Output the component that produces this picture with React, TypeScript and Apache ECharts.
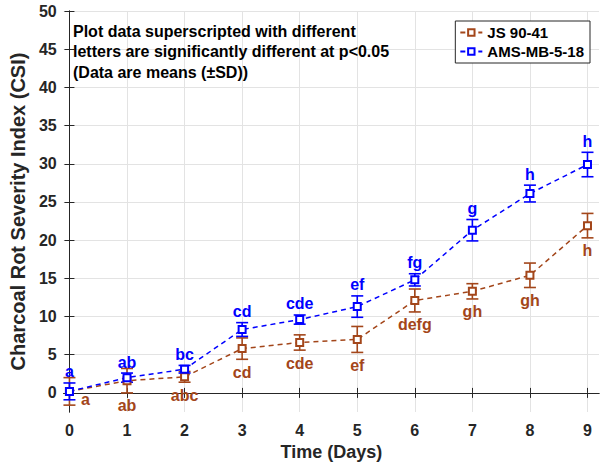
import React, { useEffect, useRef } from 'react';
import * as echarts from 'echarts';

const days = [0, 1, 2, 3, 4, 5, 6, 7, 8, 9];
const yTicks = [0, 5, 10, 15, 20, 25, 30, 35, 40, 45, 50];
const jsName = 'JS 90-41';
const amsName = 'AMS-MB-5-18';
const jsMean = [0.2, 1.6, 2.1, 5.8, 6.6, 7.0, 12.1, 13.3, 15.4, 21.9];
const jsSD = [1.8, 1.6, 0.7, 1.4, 1.0, 1.7, 1.5, 1.0, 1.6, 1.6];
const jsLetters = ['a', 'ab', 'abc', 'cd', 'cde', 'ef', 'defg', 'gh', 'gh', 'h'];
const amsMean = [0.2, 2.0, 3.1, 8.3, 9.6, 11.3, 14.8, 21.3, 26.1, 29.9];
const amsSD = [1.1, 0.6, 0.5, 0.9, 0.6, 1.4, 0.8, 1.4, 1.1, 1.6];
const amsLetters = ['a', 'ab', 'bc', 'cd', 'cde', 'ef', 'fg', 'g', 'h', 'h'];
const note = [
  'Plot data superscripted with different',
  'letters are significantly different at p<0.05',
  '(Data are means (\u00b1SD))',
];

const FONT = 'Liberation Sans, Arial, Helvetica, sans-serif';
const BROWN = '#a3461a';
const BLUE = '#0000ff';
const AXIS = '#262626';
const GRID = '#e3e3e3';

function errSeries(name: string, mean: number[], sd: number[], letters: string[], color: string, above: boolean) {
  return {
    type: 'custom',
    name,
    xAxisIndex: 0,
    yAxisIndex: 0,
    clip: false,
    data: days.map((d, i) => [d, mean[i], sd[i], i]),
    encode: { x: 0, y: 1 },
    renderItem: (params: any, api: any) => {
      const x = api.value(0);
      const m = api.value(1);
      const s = api.value(2);
      const i = api.value(3);
      const top = api.coord([x, m + s]);
      const bot = api.coord([x, m - s]);
      const mid = api.coord([x, m]);
      const cap = 6;
      const ls = { stroke: color, lineWidth: 1.6 };
      let tx = top[0];
      let ty = above ? top[1] - 11 : bot[1] + 13;
      if (!above && i === 0) {
        tx = mid[0] + 16;
        ty = mid[1] + 8;
      }
      return {
        type: 'group',
        children: [
          { type: 'line', shape: { x1: top[0], y1: top[1], x2: bot[0], y2: bot[1] }, style: ls },
          { type: 'line', shape: { x1: top[0] - cap, y1: top[1], x2: top[0] + cap, y2: top[1] }, style: ls },
          { type: 'line', shape: { x1: bot[0] - cap, y1: bot[1], x2: bot[0] + cap, y2: bot[1] }, style: ls },
          {
            type: 'text',
            x: tx,
            y: ty,
            style: {
              text: letters[i],
              fill: color,
              font: `bold 16px ${FONT}`,
              align: 'center',
              verticalAlign: 'middle',
            },
          },
        ],
      };
    },
    z: 2,
  };
}

function lineSeries(name: string, mean: number[], color: string) {
  return {
    type: 'line',
    name,
    data: days.map((d, i) => [d, mean[i]]),
    symbol: 'emptyRect',
    symbolSize: 7,
    showAllSymbol: true,
    itemStyle: { color, borderWidth: 1.3 },
    lineStyle: { color, width: 1.5, type: [5, 4] },
    z: 3,
  };
}

export default function App() {
  const ref = useRef<HTMLDivElement>(null);
  useEffect(() => {
    if (!ref.current) return;
    const chart = echarts.init(ref.current, undefined, { renderer: 'svg' });
    const tickLabel = { color: AXIS, fontSize: 16, fontWeight: 'bold', fontFamily: FONT };
    chart.setOption({
      animation: false,
      backgroundColor: '#fff',
      grid: { left: 60, right: 5, top: 11, bottom: 54, containLabel: false },
      legend: {
        data: [jsName, amsName],
        orient: 'vertical',
        right: 14,
        top: 21,
        backgroundColor: '#fff',
        borderColor: AXIS,
        borderWidth: 1,
        borderRadius: 0,
        padding: [4, 6, 4, 4],
        itemGap: 4,
        itemWidth: 22,
        itemHeight: 8,
        textStyle: { fontSize: 15, fontWeight: 'bold', color: '#000', fontFamily: FONT },
      },
      graphic: [
        {
          type: 'text',
          left: 73,
          top: 21,
          style: { text: note.join('\n'), font: `bold 16px ${FONT}`, lineHeight: 20.5, fill: '#000' },
          z: 10,
        },
      ],
      xAxis: [
        {
          type: 'value',
          min: -0.1,
          max: 9.2,
          position: 'bottom',
          axisLine: { lineStyle: { color: AXIS, width: 1 } },
          axisTick: { inside: true, length: 5, customValues: days, lineStyle: { color: AXIS } },
          axisLabel: { ...tickLabel, customValues: days, margin: 10 },
          splitLine: { show: true, lineStyle: { color: GRID, width: 1 } },
          name: 'Time (Days)',
          nameLocation: 'middle',
          nameGap: 31,
          nameTextStyle: { fontSize: 18, fontWeight: 'bold', color: AXIS, fontFamily: FONT },
        },
        {
          type: 'value',
          min: -0.1,
          max: 9.2,
          position: 'top',
          axisLine: { show: true, lineStyle: { color: AXIS, width: 1 } },
          axisTick: { show: true, inside: true, length: 5, customValues: days, lineStyle: { color: AXIS } },
          axisLabel: { show: false },
          splitLine: { show: false },
        },
      ],
      yAxis: [
        {
          type: 'value',
          min: -2.5,
          max: 50,
          position: 'left',
          axisLine: { show: true, lineStyle: { color: AXIS, width: 1 } },
          axisTick: { show: true, inside: true, length: 5, customValues: yTicks, lineStyle: { color: AXIS } },
          axisLabel: { ...tickLabel, customValues: yTicks, margin: 7 },
          splitLine: { show: true, lineStyle: { color: GRID, width: 1 } },
          name: 'Charcoal Rot Severity Index (CSI)',
          nameLocation: 'middle',
          nameGap: 25,
          nameTextStyle: { fontSize: 20, fontWeight: 'bold', color: AXIS, fontFamily: FONT },
        },
        {
          type: 'value',
          min: -2.5,
          max: 50,
          position: 'right',
          axisLine: { show: true, lineStyle: { color: AXIS, width: 1 } },
          axisTick: { show: true, inside: true, length: 5, customValues: yTicks, lineStyle: { color: AXIS } },
          axisLabel: { show: false },
          splitLine: { show: false },
        },
      ],
      series: [
        errSeries('jsErr', jsMean, jsSD, jsLetters, BROWN, false),
        lineSeries(jsName, jsMean, BROWN),
        errSeries('amsErr', amsMean, amsSD, amsLetters, BLUE, true),
        lineSeries(amsName, amsMean, BLUE),
      ],
    });
    return () => chart.dispose();
  }, []);
  return <div ref={ref} style={{ width: 604, height: 466, position: 'absolute', left: 0, top: 0 }} />;
}
